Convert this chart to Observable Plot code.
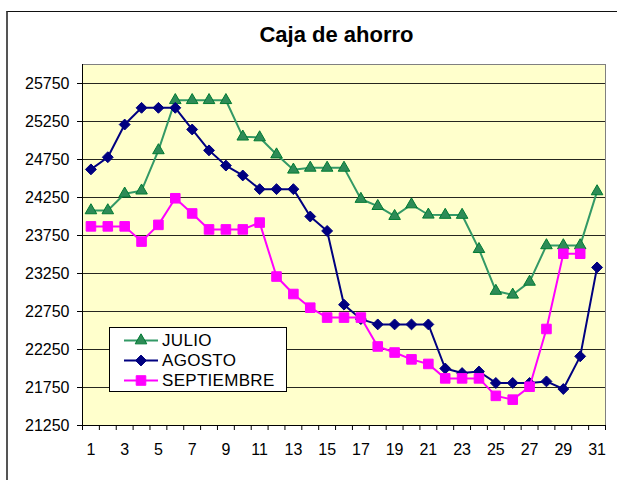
<!DOCTYPE html>
<html>
<head>
<meta charset="utf-8">
<script src="https://cdn.jsdelivr.net/npm/d3@7"></script>
<script src="https://cdn.jsdelivr.net/npm/@observablehq/plot@0.6"></script>
<style>
  html, body { margin: 0; padding: 0; background: #fff; overflow: hidden; }
  #wrap { position: relative; width: 617px; height: 480px; overflow: hidden; font-family: "Liberation Sans", Arial, sans-serif; }
  #border { position: absolute; left: 6px; top: 11px; width: 700px; height: 600px; border-left: 2px solid #555; border-top: 1px solid #111; box-sizing: border-box; }
  #title { position: absolute; left: 0; width: 673px; top: 24px; text-align: center; font-weight: bold; font-size: 22px; line-height: 22px; color: #000; }
  #chart { position: absolute; left: 0; top: 50px; }
  #legend { position: absolute; left: 109px; top: 327px; width: 178px; height: 65px; box-sizing: border-box; background: #fff; border: 1px solid #000; padding-top: 3px; }
  .row { display: flex; align-items: center; height: 19.7px; }
  .row svg { margin-left: 13px; }
  .row span { margin-left: 4px; font-size: 17px; letter-spacing: 0.3px; color: #000; line-height: 19px; }
</style>
</head>
<body>
<div id="wrap">
  <div id="border"></div>
  <div id="title">Caja de ahorro</div>
  <div id="chart"></div>
  <div id="legend"></div>
</div>
<script>
const days = d3.range(1, 32);
const xLabels = [1, 3, 5, 7, 9, 11, 13, 15, 17, 19, 21, 23, 25, 27, 29, 31];
const yTicks = [21250, 21750, 22250, 22750, 23250, 23750, 24250, 24750, 25250, 25750];
const seriesNames = ["JULIO", "AGOSTO", "SEPTIEMBRE"];
const julio = [24080,24080,24300,24340,24870,25530,25530,25530,25530,25050,25040,24815,24615,24640,24640,24640,24230,24136,24005,24158,24023,24020,24020,23570,23020,22970,23140,23620,23620,23620,24330];
const agosto = [24620,24780,25210,25430,25430,25430,25145,24870,24670,24540,24360,24360,24360,24000,23810,22840,22650,22580,22580,22580,22580,22000,21940,21960,21810,21810,21810,21830,21730,22160,23330];
const septiembre = [23870,23870,23870,23670,23890,24240,24040,23830,23830,23830,23920,23210,22980,22800,22670,22670,22670,22290,22210,22120,22060,21870,21870,21870,21640,21590,21760,22520,23510,23510];

const styles = {
  JULIO: {line: "#339966", fill: "#2E8B57", stroke: "#007A33", symbol: "triangle", r: 4.3},
  AGOSTO: {line: "#000080", fill: "#000080", stroke: "#000080", symbol: "diamond2", r: 4.9},
  SEPTIEMBRE: {line: "#FF00FF", fill: "#FF00FF", stroke: "#FF00FF", symbol: "square", r: 5.4}
};
const values = {JULIO: julio, AGOSTO: agosto, SEPTIEMBRE: septiembre};
const rows = name => values[name].map((v, i) => ({day: days[i], value: v}));
const boundaries = d3.range(0.5, 32, 1);

const seriesMarks = seriesNames.flatMap(name => {
  const s = styles[name];
  return [
    Plot.lineY(rows(name), {x: "day", y: "value", stroke: s.line, strokeWidth: 2}),
    Plot.dot(rows(name), {x: "day", y: "value", symbol: () => s.symbol, r: s.r, fill: s.fill, stroke: s.stroke, strokeWidth: 1})
  ];
});

const chart = Plot.plot({
  width: 617,
  height: 430,
  marginLeft: 82,
  marginRight: 12,
  marginTop: 14,
  marginBottom: 55,
  style: {fontFamily: "Liberation Sans, Arial, sans-serif", fontSize: "16px", color: "#000", background: "transparent", overflow: "visible"},
  x: {type: "linear", domain: [0.5, 31.5]},
  y: {type: "linear", domain: [21250, 26000]},
  symbol: {type: "identity"},
  marks: [
    Plot.frame({fill: "#FFFFCC", stroke: "#808080"}),
    Plot.gridY(yTicks, {stroke: "#000", strokeOpacity: 0.85, strokeWidth: 1}),
    Plot.ruleX([0.5], {stroke: "#000"}),
    Plot.ruleY([21250], {stroke: "#000"}),
    Plot.axisY({ticks: yTicks, tickSize: 5, tickPadding: 8, tickFormat: d3.format("d"), label: null, stroke: "#000", fill: "#000"}),
    Plot.axisX({ticks: boundaries, tickSize: 5, fill: "none", label: null, stroke: "#000"}),
    Plot.axisX({ticks: xLabels, tickSize: 0, tickPadding: 18, tickFormat: d3.format("d"), label: null, fill: "#000"}),
    ...seriesMarks
  ]
});
document.getElementById("chart").appendChild(chart);

// Legend
const legend = document.getElementById("legend");
seriesNames.forEach(name => {
  const s = styles[name];
  const row = document.createElement("div");
  row.className = "row";
  const svg = d3.create("svg").attr("width", 35).attr("height", 19);
  svg.append("line").attr("x1", 1).attr("x2", 35).attr("y1", 9.5).attr("y2", 9.5)
    .attr("stroke", s.line).attr("stroke-width", 2);
  const symMap = {triangle: d3.symbolTriangle, diamond2: d3.symbolDiamond2, square: d3.symbolSquare};
  svg.append("path").attr("transform", "translate(18,9.5)")
    .attr("d", d3.symbol(symMap[s.symbol], Math.PI * s.r * s.r)())
    .attr("fill", s.fill).attr("stroke", s.stroke);
  row.appendChild(svg.node());
  const span = document.createElement("span");
  span.textContent = name;
  row.appendChild(span);
  legend.appendChild(row);
});
</script>
</body>
</html>
